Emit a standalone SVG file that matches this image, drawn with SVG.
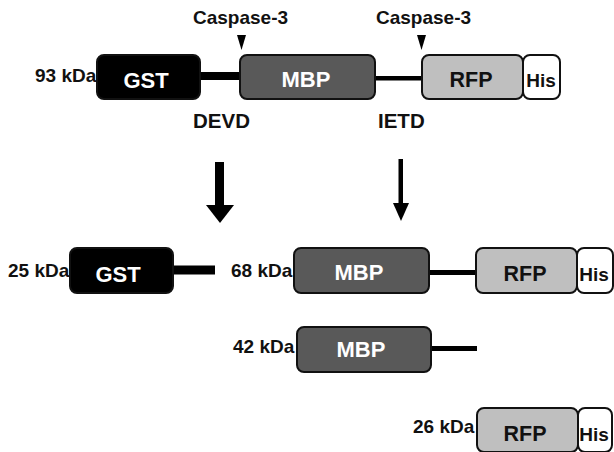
<svg xmlns="http://www.w3.org/2000/svg" width="614" height="452" viewBox="0 0 614 452">
<style>
text{font-family:"Liberation Sans",Arial,sans-serif;font-weight:bold}
.lbl{font-size:19px;fill:#111}
.big{font-size:20.5px;fill:#111}
.box{stroke:#111;stroke-width:2}
.gst{fill:#000}
.mbp{fill:#595959}
.rfp{fill:#bfbfbf}
.his{fill:#fff}
.wt{font-size:22px;fill:#fff;text-anchor:middle}
.bt{font-size:21.5px;fill:#111;text-anchor:middle}
.ht{font-size:19px;fill:#111;text-anchor:middle}
</style>
<rect width="614" height="452" fill="#fff"/>
<g id="connectors" fill="#000">
  <rect x="199" y="72" width="42" height="8"/>
  <rect x="374" y="76" width="49" height="4.5"/>
  <rect x="172" y="265.5" width="43" height="9"/>
  <rect x="428" y="270" width="48" height="5"/>
  <rect x="430" y="346" width="47" height="5"/>
  <rect x="215" y="162" width="9" height="44"/>
  <polygon points="206,205 234,205 220,223"/>
  <rect x="398.5" y="159" width="4.5" height="45"/>
  <polygon points="393,203 409,203 401,221"/>
  <polygon points="237,35 246,35 241.5,50"/>
  <polygon points="417,35 426,35 421.5,50"/>
</g>
<g id="labels">
  <text class="lbl" x="193" y="24">Caspase-3</text>
  <text class="lbl" x="376" y="24">Caspase-3</text>
  <text class="big" x="193" y="128">DEVD</text>
  <text class="big" x="378" y="128">IETD</text>
</g>
<g id="row1">
  <text class="lbl" x="35" y="82">93 kDa</text>
  <g id="gst1"><rect class="box gst" x="97" y="55" width="103" height="44" rx="7"/><text class="wt" x="146" y="88">GST</text></g>
  <g id="mbp1"><rect class="box mbp" x="240" y="55" width="135" height="44" rx="7"/><text class="wt" x="306" y="87">MBP</text></g>
  <g id="rfp1"><rect class="box rfp" x="422" y="55" width="101" height="44" rx="7"/><text class="bt" x="471" y="87">RFP</text></g>
  <g id="his1"><rect class="box his" x="523" y="55" width="37" height="44" rx="7"/><text class="ht" x="541" y="87">His</text></g>
</g>
<g id="row2">
  <text class="lbl" x="8" y="277">25 kDa</text>
  <g id="gst2"><rect class="box gst" x="70" y="248" width="103" height="45" rx="7"/><text class="wt" x="118" y="282">GST</text></g>
  <text class="lbl" x="231" y="277">68 kDa</text>
  <g id="mbp2"><rect class="box mbp" x="294" y="248" width="135" height="45" rx="7"/><text class="wt" x="359" y="280">MBP</text></g>
  <g id="rfp2"><rect class="box rfp" x="476" y="248" width="101" height="45" rx="7"/><text class="bt" x="525" y="281">RFP</text></g>
  <g id="his2"><rect class="box his" x="577" y="248" width="36" height="45" rx="7"/><text class="ht" x="594" y="281">His</text></g>
</g>
<g id="row3">
  <text class="lbl" x="233" y="353">42 kDa</text>
  <g id="mbp3"><rect class="box mbp" x="297" y="327" width="134" height="45" rx="7"/><text class="wt" x="361" y="357">MBP</text></g>
</g>
<g id="row4">
  <text class="lbl" x="413" y="433">26 kDa</text>
  <g id="rfp4"><rect class="box rfp" x="477" y="408" width="101" height="44" rx="7"/><text class="bt" x="525" y="441">RFP</text></g>
  <g id="his4"><rect class="box his" x="578" y="408" width="34" height="44" rx="7"/><text class="ht" x="594" y="441">His</text></g>
</g>
</svg>
